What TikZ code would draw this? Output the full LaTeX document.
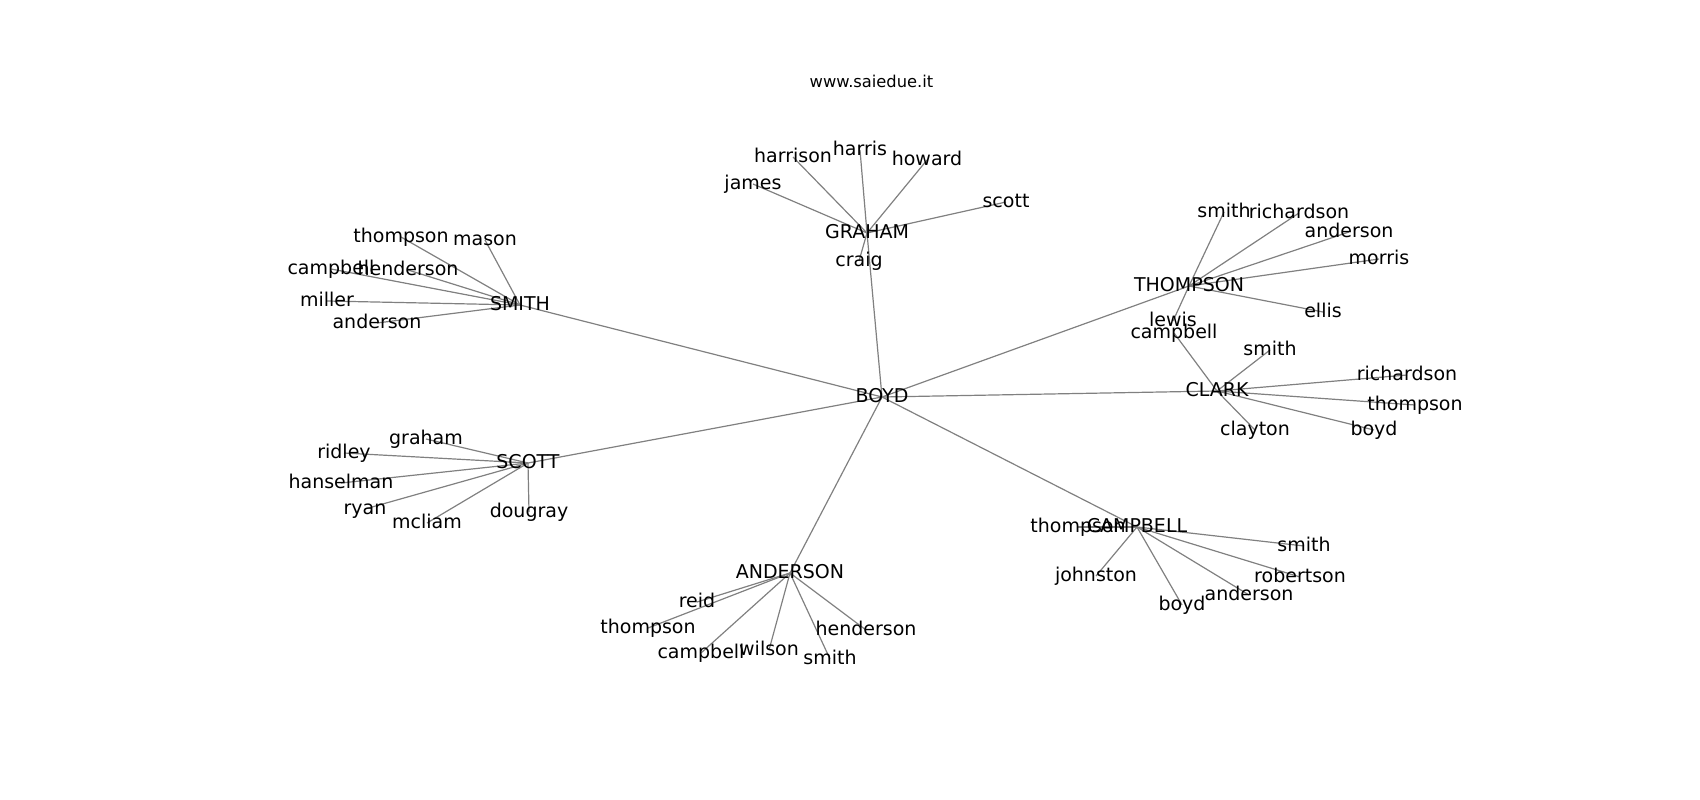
\documentclass[tikz,border=0pt]{standalone}
\usepackage{fontspec}
\setmainfont{DejaVu Sans}
\usetikzlibrary{backgrounds}
\begin{document}
\begin{tikzpicture}[x=1pt,y=-1pt,
  lbl/.style={inner sep=0pt, font=\fontsize{19}{22}\selectfont, text height=14.4pt, text depth=4pt, anchor=center},
  edge/.style={draw=black!50, line width=1.2pt}]
\useasboundingbox (0,0) rectangle (1700,800);
\node[inner sep=0pt, font=\fontsize{16.3}{20}\selectfont, anchor=base] (title) at (871.5,87.3) {www.saiedue.it};
% hubs
\node[lbl] (boyd) at (882,397) {BOYD};
\node[lbl] (smith) at (520,305) {SMITH};
\node[lbl] (graham) at (867,233) {GRAHAM};
\node[lbl] (thompson) at (1189,286) {THOMPSON};
\node[lbl] (clark) at (1217,391) {CLARK};
\node[lbl] (scott) at (528,463) {SCOTT};
\node[lbl] (anderson) at (790,573) {ANDERSON};
\node[lbl] (campbell) at (1137,527) {CAMPBELL};
% SMITH children
\node[lbl] (s1) at (401,237) {thompson};
\node[lbl] (s2) at (485,240) {mason};
\node[lbl] (s3) at (331,269) {campbell};
\node[lbl] (s4) at (408,270) {henderson};
\node[lbl] (s5) at (327,301) {miller};
\node[lbl] (s6) at (377,323) {anderson};
% GRAHAM children
\node[lbl] (g1) at (793,157) {harrison};
\node[lbl] (g2) at (860,150) {harris};
\node[lbl] (g3) at (927,160) {howard};
\node[lbl] (g4) at (753,184) {james};
\node[lbl] (g5) at (1006,202) {scott};
\node[lbl] (g6) at (859,261) {craig};
% THOMPSON children
\node[lbl] (t1) at (1224,212) {smith};
\node[lbl] (t2) at (1299,213) {richardson};
\node[lbl] (t3) at (1349,232) {anderson};
\node[lbl] (t4) at (1379,259) {morris};
\node[lbl] (t5) at (1323,312) {ellis};
\node[lbl] (t6) at (1173,321) {lewis};
% CLARK children
\node[lbl] (c1) at (1270,350) {smith};
\node[lbl] (c2) at (1407,375) {richardson};
\node[lbl] (c3) at (1415,405) {thompson};
\node[lbl] (c4) at (1255,430) {clayton};
\node[lbl] (c5) at (1374,430) {boyd};
\node[lbl] (c6) at (1174,333) {campbell};
% SCOTT children
\node[lbl] (k1) at (426,439) {graham};
\node[lbl] (k2) at (344,453) {ridley};
\node[lbl] (k3) at (341,483) {hanselman};
\node[lbl] (k4) at (365,509) {ryan};
\node[lbl] (k5) at (427,523) {mcliam};
\node[lbl] (k6) at (529,512) {dougray};
% ANDERSON children
\node[lbl] (a1) at (697,602) {reid};
\node[lbl] (a2) at (648,628) {thompson};
\node[lbl] (a3) at (701,653) {campbell};
\node[lbl] (a4) at (769,650) {wilson};
\node[lbl] (a5) at (866,630) {henderson};
\node[lbl] (a6) at (830,659) {smith};
% CAMPBELL children
\node[lbl] (p1) at (1078,527) {thompson};
\node[lbl] (p2) at (1304,546) {smith};
\node[lbl] (p3) at (1096,576) {johnston};
\node[lbl] (p4) at (1300,577) {robertson};
\node[lbl] (p5) at (1249,595) {anderson};
\node[lbl] (p6) at (1182,605) {boyd};
\begin{pgfonlayer}{background}
\foreach \h in {smith,graham,thompson,clark,scott,anderson,campbell}
  \draw[edge] (boyd.center) -- (\h.center);
\foreach \h/\p in {smith/s,graham/g,thompson/t,clark/c,scott/k,anderson/a,campbell/p}
  \foreach \i in {1,...,6}
    \draw[edge] (\h.center) -- (\p\i.center);
\end{pgfonlayer}
\end{tikzpicture}
\end{document}
